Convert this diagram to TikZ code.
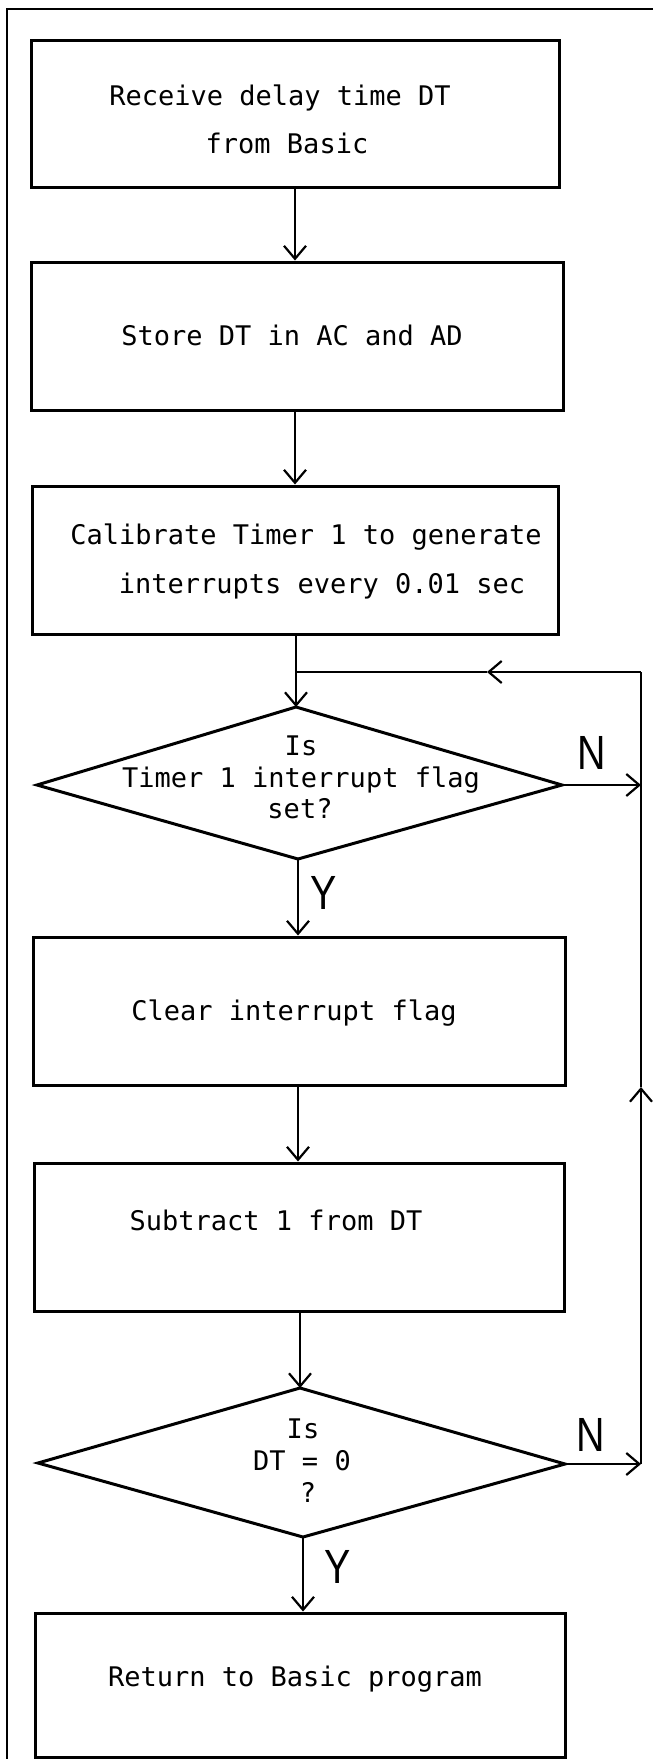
\documentclass[tikz,border=0pt]{standalone}
\usepackage{fontspec}
\newfontfamily\twfont{DejaVu Sans Mono}
\newfontfamily\lblfont{Liberation Sans}[FakeStretch=0.82]
\usetikzlibrary{arrows.meta}
\begin{document}
\begin{tikzpicture}[x=1pt,y=-1pt,
  box/.style={draw, line width=3pt, inner sep=0pt, rectangle},
  txt/.style={anchor=base, inner sep=0pt, font=\twfont\fontsize{27}{32}\selectfont},
  yn/.style={inner sep=0pt, font=\lblfont\fontsize{48}{48}\selectfont},
  dia/.style={line width=3pt, line join=miter},
  flow/.style={line width=2.2pt, -{Straight Barb[length=13pt,width=22pt]}},
  plain/.style={line width=2.2pt},
  frameline/.style={line width=1.7pt}]
\useasboundingbox (0,0) rectangle (653,1759);
% frame
\draw[frameline] (7,1765) -- (7,9) -- (660,9);
% boxes
\node[box, minimum width=528pt, minimum height=147pt] (b1) at (295,113.5) {};
\node[box, minimum width=532pt, minimum height=148pt] (b2) at (297,336) {};
\node[box, minimum width=526pt, minimum height=148pt] (b3) at (295,560) {};
\node[box, minimum width=532pt, minimum height=148pt] (b4) at (299,1011) {};
\node[box, minimum width=530pt, minimum height=148pt] (b5) at (299,1237) {};
\node[box, minimum width=530pt, minimum height=144pt] (b6) at (300,1685) {};
% diamonds
\coordinate (d1t) at (296,707);
\coordinate (d1r) at (562,785);
\coordinate (d1b) at (298,859);
\coordinate (d1l) at (37,785);
\draw[dia] (d1t) -- (d1r) -- (d1b) -- (d1l) -- cycle;
\coordinate (d2t) at (300,1388);
\coordinate (d2r) at (565,1464);
\coordinate (d2b) at (303,1537);
\coordinate (d2l) at (38,1463);
\draw[dia] (d2t) -- (d2r) -- (d2b) -- (d2l) -- cycle;
% texts
\node[txt] (t1a) at (280,105) {Receive delay time DT};
\node[txt] (t1b) at (287,153) {from Basic};
\node[txt] (t2) at (292,345) {Store DT in AC and AD};
\node[txt] (t3a) at (306,544) {Calibrate Timer 1 to generate};
\node[txt] (t3b) at (322,593) {interrupts every 0.01 sec};
\node[txt] (q1a) at (301,755) {Is};
\node[txt] (q1b) at (301,787) {Timer 1 interrupt flag};
\node[txt] (q1c) at (300,818) {set?};
\node[txt] (t4) at (294,1020) {Clear interrupt flag};
\node[txt] (t5) at (276,1230) {Subtract 1 from DT};
\node[txt] (q2a) at (303,1438) {Is};
\node[txt] (q2b) at (302,1470) {DT = 0};
\node[txt] (q2c) at (308,1502) {?};
\node[txt] (t6) at (295,1686) {Return to Basic program};
% Y / N labels
\node[yn] (n1) at (592,753) {N};
\node[yn] (n2) at (591,1435) {N};
\node[yn] (y1) at (324,893) {Y};
\node[yn] (y2) at (338,1567) {Y};
% loop coordinates
\coordinate (j1) at (296,672);
\coordinate (c1) at (641,672);
\coordinate (la) at (487,672);
\coordinate (n1e) at (641,785);
\coordinate (ua) at (641,1087);
\coordinate (n2e) at (641,1464);
% connectors
\draw[flow] (b1.south) -- (b1.south |- b2.north);
\draw[flow] (b2.south -| b1.south) -- (b1.south |- b3.north);
\draw[flow] (b3.south -| d1t) -- (d1t);
\draw[flow] (d1b) -- (d1b |- b4.north);
\draw[flow] (b4.south -| d1b) -- (d1b |- b5.north);
\draw[flow] (b5.south -| d2t) -- (d2t);
\draw[flow] (d2b) -- (d2b |- b6.north);
\draw[flow] (d1r) -- (n1e);
\draw[flow] (d2r) -- (n2e);
\draw[flow] (n2e) -- (ua);
\draw[plain] (ua) -- (c1);
\draw[flow] (c1) -- (la);
\draw[plain] (la) -- (j1);
\end{tikzpicture}
\end{document}
